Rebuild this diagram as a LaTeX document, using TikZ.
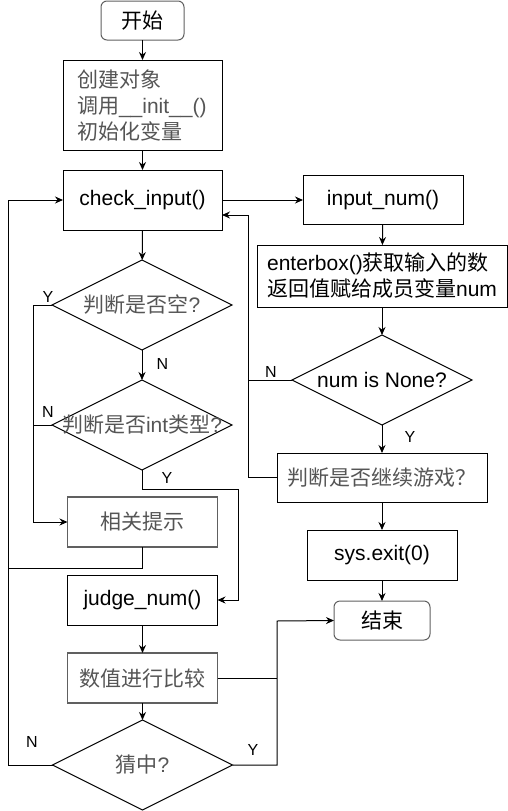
\documentclass[tikz,border=0pt]{standalone}
\usepackage{fontspec}
\setmainfont{Liberation Sans}
\newfontfamily\cjk{Noto Sans CJK SC}
\usepackage{xcolor}
\usepackage{tikz}
\usetikzlibrary{arrows.meta, positioning, shapes.geometric}
\definecolor{txtgray}{HTML}{555555}
\definecolor{lngray}{HTML}{606060}
\newcommand{\zh}[1]{{\cjk #1}}
\tikzset{
  basebox/.style={draw, line width=1pt, inner sep=0pt, outer sep=0pt,
    font=\fontsize{21}{26}\selectfont, text=black},
  procbox/.style={basebox, rectangle, minimum width=150pt, minimum height=50pt},
  graybox/.style={procbox, draw=lngray, line width=1.4pt, text=txtgray},
  termbox/.style={basebox, rectangle, rounded corners=6pt, draw=lngray,
    minimum width=#1, minimum height=39pt},
  decbox/.style={basebox, diamond, minimum width=180pt, minimum height=90pt},
  arr/.style={-{Stealth[length=8pt,width=7pt]}, line width=1pt},
  wire/.style={line width=1pt},
  yn/.style={font=\fontsize{16}{16}\selectfont, inner sep=0pt},
}
\begin{document}
\begin{tikzpicture}[x=1pt,y=-1pt]
\useasboundingbox (0,0) rectangle (508,811);
% left column
\node[termbox=83pt] (start) at (142.5,20.5) {\zh{开始}};
\node[procbox, minimum width=159pt, minimum height=90pt, text width=131pt,
  align=left, text=txtgray] (init) at (142.5,105)
  {\zh{创建对象}\\\zh{调用}\_\_init\_\_()\\\zh{初始化变量}};
\node[procbox, minimum width=159pt, minimum height=60pt] (check) at (142.5,200) {check\_input()};
\node[decbox] (empty) at (142,305) {\makebox[0pt]{\color{txtgray}\zh{判断是否空}?}};
\node[decbox] (isint) at (142,425) {\makebox[0pt]{\color{txtgray}\zh{判断是否}int\zh{类型}?}};
\node[graybox] (hint) at (142.5,522) {\zh{相关提示}};
\node[procbox] (judge) at (142.5,600) {judge\_num()};
\node[graybox] (cmp) at (142.5,678) {\zh{数值进行比较}};
\node[decbox] (hit) at (142.5,765) {\makebox[0pt]{\color{txtgray}\zh{猜中}?}};
% right column
\node[procbox, minimum width=160pt, minimum height=49pt] (input) at (383,200) {input\_num()};
\node[procbox, minimum width=250pt, minimum height=62pt, align=left] (enter) at (382,276)
  {enterbox()\zh{获取输入的数}\\\zh{返回值赋给成员变量}num};
\node[decbox] (none) at (382,380) {\makebox[0pt]{num is None?}};
\node[procbox, minimum width=210pt, minimum height=49pt, text=txtgray] (goon) at (382,477.5) {\zh{判断是否继续游戏？}};
\node[procbox] (exit) at (382,555) {sys.exit(0)};
\node[termbox=96pt] (end) at (382,620.5) {\zh{结束}};
% bend points
\coordinate (lt) at (8,200);
\coordinate (lm) at (8,568);
\coordinate (lb) at (8,765);
\coordinate (ly) at (33,522);
\coordinate (jr) at (238,600);
\coordinate (rt) at (248,215);
\coordinate (ry) at (277,621);
% connectors
\draw[arr] (start) -- (init);
\draw[arr] (init) -- (check);
\draw[arr] (check) -- (empty);
\draw[arr] (empty) -- (isint) node[yn, pos=0.45, right=14pt] {N};
\draw[arr] (empty.west) -| (ly) -- (hint.west);
\draw[wire] (isint.west) -- (isint.west -| ly);
\draw[arr] (isint.south) -- ++(0,19) -| (jr) -- (judge.east);
\draw[wire] (hint.south) |- (lm);
\draw[arr] (judge) -- (cmp);
\draw[arr] (cmp) -- (hit);
\draw[arr] (hit.west) -- (lb) -- (lt) -- (check.west);
\draw[arr] (check.east) -- (input.west);
\draw[arr] (input) -- (enter);
\draw[arr] (enter) -- (none);
\draw[arr] (none) -- (goon);
\draw[wire] (none.west) -- (none.west -| rt);
\draw[arr] (goon.west) -| (rt) -- (check.east |- rt);
\draw[arr] (goon) -- (exit);
\draw[arr] (exit) -- (end);
\draw[wire] (cmp.east) -- (cmp.east -| ry);
\draw[arr] (hit.east) -| (ry) -- (end.west);
% branch labels
\node[yn] (yempty) at (48,297) {Y};
\node[yn] (nisint) at (48,412) {N};
\node[yn] (yisint) at (167,478) {Y};
\node[yn] (nnone) at (271,372) {N};
\node[yn] (ynone) at (410,437) {Y};
\node[yn] (nhit) at (32,742) {N};
\node[yn] (yhit) at (253,750) {Y};
\end{tikzpicture}
\end{document}
